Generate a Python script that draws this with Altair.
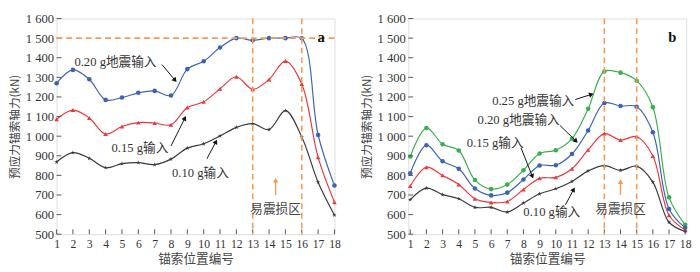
import math
import altair as alt
import pandas as pd

# ---------------- data ----------------
positions = list(range(1, 19))

a_020 = [1270, 1338, 1290, 1185, 1197, 1221, 1231, 1207, 1342, 1382, 1452, 1500, 1489, 1500, 1500, 1499, 1006, 748]
a_015 = [1086, 1133, 1093, 1011, 1049, 1069, 1067, 1058, 1146, 1175, 1242, 1303, 1239, 1289, 1383, 1266, 892, 663]
a_010 = [868, 916, 887, 839, 860, 865, 855, 883, 939, 961, 1001, 1045, 1064, 1034, 1130, 996, 765, 597]

b_025 = [896, 1042, 959, 927, 776, 730, 753, 826, 912, 928, 987, 1140, 1330, 1324, 1283, 1148, 688, 548]
b_020 = [811, 954, 872, 834, 733, 698, 712, 779, 850, 852, 909, 1029, 1169, 1154, 1150, 1020, 629, 533]
b_015 = [746, 842, 800, 754, 681, 662, 667, 728, 785, 790, 834, 930, 1013, 980, 998, 899, 597, 522]
b_010 = [676, 735, 702, 681, 637, 637, 613, 659, 706, 732, 769, 823, 850, 826, 847, 766, 561, 514]

series_names = ["0.25g", "0.20g", "0.15g", "0.10g"]
series_colors = ["#3aae4c", "#3d63b5", "#e8383d", "#3a3a3a"]
star = ("M0,-1L0.2245,-0.309L0.951,-0.309L0.363,0.118L0.588,0.809L0,0.382"
        "L-0.588,0.809L-0.363,0.118L-0.951,-0.309L-0.2245,-0.309Z")
series_shapes = ["circle", "circle", "triangle-up", star]

y_ticks = [500, 600, 700, 800, 900, 1000, 1100, 1200, 1300, 1400, 1500, 1600]

# annotation labels: text, x, y
a_labels = [("0.20 g地震输入", 4.6, 1380), ("0.15 g输入", 6.1, 940), ("0.10 g输入", 9.8, 810)]
a_arrows = [(7.45, 1365, 8.25, 1285), (8.0, 950, 8.85, 1092), (10.2, 885, 10.75, 972)]
a_vlines = [13, 16]
a_hline = [1500]
a_zone = ("易震损区", 14.4, 630)
a_zone_arrow = (14.4, 700, 14.4, 775)

b_labels = [("0.25 g地震输入", 8.6, 1180), ("0.20 g地震输入", 7.7, 1080),
            ("0.15 g输入", 6.25, 966), ("0.10 g输入", 9.75, 613)]
b_arrows = [(11.2, 1187, 12.2, 1213), (10.25, 1055, 11.25, 975),
            (7.85, 940, 8.55, 795), (10.6, 650, 11.1, 728)]
b_vlines = [13, 15]
b_zone = ("易震损区", 14.0, 630)
b_zone_arrow = (14.0, 700, 14.0, 768)

# ---------------- styling ----------------
W, H = 286, 222
SERIF = "Liberation Serif, Noto Sans CJK SC"
CJK = "Noto Sans CJK SC"
ORANGE = "#f59a52"
TXT = "#333333"

XAXIS = alt.Axis(values=positions, title="锚索位置编号", titleFont=CJK, titleFontSize=13,
                 titleFontWeight="normal", titleColor="#444", titlePadding=3,
                 labelFont="Liberation Serif", labelFontSize=12, labelColor=TXT,
                 labelOverlap=False, labelBound=False, labelFlush=False,
                 labelPadding=5, ticks=False, grid=False, domain=False)
YAXIS = alt.Axis(values=y_ticks, title="预应力锚索轴力(kN)", titleFont=CJK, titleFontSize=12,
                 titleFontWeight="normal", titleColor="#444", titlePadding=4,
                 labelFont="Liberation Serif", labelFontSize=13, labelColor=TXT,
                 labelOverlap=False, labelFlush=False,
                 labelExpr="replace(format(datum.value, ','), ',', ' ')",
                 labelPadding=3, ticks=False, grid=False, domain=False)


def make_panel(series, xdom, labels, arrows, vlines, hlines, zone, zone_arrow, letter):
    rows = []
    for name, vals in series:
        for p, v in zip(positions, vals):
            rows.append({"pos": p, "val": v, "series": name})
    df = pd.DataFrame(rows)

    xs = alt.Scale(domain=xdom, nice=False, zero=False)
    ys = alt.Scale(domain=[500, 1600], nice=False, zero=False)
    sx = W / (xdom[1] - xdom[0])
    sy = H / 1100.0

    def X(field):
        return alt.X(field, scale=xs, axis=XAXIS)

    def Y(field):
        return alt.Y(field, scale=ys, axis=YAXIS)

    color = alt.Color("series:N", scale=alt.Scale(domain=series_names, range=series_colors), legend=None)
    shape = alt.Shape("series:N", scale=alt.Scale(domain=series_names, range=series_shapes), legend=None)

    base = alt.Chart(df)
    lines = base.mark_line(interpolate="catmull-rom", strokeWidth=1.2).encode(
        x=X("pos:Q"), y=Y("val:Q"), color=color, detail="series:N")
    pts = base.mark_point(filled=True, size=22, opacity=1).encode(
        x=X("pos:Q"), y=Y("val:Q"), color=color, shape=shape)

    layers = [lines, pts]

    # inward ticks
    xt = pd.DataFrame({"pos": positions})
    layers.append(alt.Chart(xt).mark_rule(color="#555", strokeWidth=1).encode(
        x=X("pos:Q"), y=alt.value(H), y2=alt.value(H - 5)))
    yt = pd.DataFrame({"val": y_ticks})
    layers.append(alt.Chart(yt).mark_rule(color="#555", strokeWidth=1).encode(
        y=Y("val:Q"), x=alt.value(0), x2=alt.value(5)))

    # dashed lines
    vdf = pd.DataFrame({"pos": vlines})
    layers.append(alt.Chart(vdf).mark_rule(color=ORANGE, strokeDash=[6, 4], strokeWidth=1.6).encode(
        x=X("pos:Q")))
    if hlines:
        hdf = pd.DataFrame({"val": hlines})
        layers.append(alt.Chart(hdf).mark_rule(color=ORANGE, strokeDash=[6, 4], strokeWidth=1.6).encode(
            y=Y("val:Q")))

    # labels
    ldf = pd.DataFrame(labels, columns=["text", "pos", "val"])
    layers.append(alt.Chart(ldf).mark_text(font=SERIF, fontSize=13, color=TXT).encode(
        x=X("pos:Q"), y=Y("val:Q"), text="text:N"))

    # arrows
    adf = pd.DataFrame(arrows, columns=["x1", "y1", "x2", "y2"])
    adf["ang"] = [
        math.degrees(math.atan2((r.x2 - r.x1) * sx, (r.y2 - r.y1) * sy)) % 360
        for r in adf.itertuples()
    ]
    layers.append(alt.Chart(adf).mark_rule(color="#111", strokeWidth=1).encode(
        x=X("x1:Q"), y=Y("y1:Q"), x2="x2:Q", y2="y2:Q"))
    layers.append(alt.Chart(adf).mark_point(shape="triangle-up", filled=True, size=30,
                                             color="#111", opacity=1).encode(
        x=X("x2:Q"), y=Y("y2:Q"), angle=alt.Angle("ang:Q", scale=None)))

    # damage zone
    zdf = pd.DataFrame([zone], columns=["text", "pos", "val"])
    layers.append(alt.Chart(zdf).mark_text(font=CJK, fontSize=13, color="#444").encode(
        x=X("pos:Q"), y=Y("val:Q"), text="text:N"))
    zadf = pd.DataFrame([zone_arrow], columns=["x1", "y1", "x2", "y2"])
    layers.append(alt.Chart(zadf).mark_rule(color=ORANGE, strokeWidth=1.4).encode(
        x=X("x1:Q"), y=Y("y1:Q"), x2="x2:Q", y2="y2:Q"))
    layers.append(alt.Chart(zadf).mark_point(shape="triangle-up", filled=True, size=30,
                                              color=ORANGE, opacity=1).encode(
        x=X("x2:Q"), y=Y("y2:Q")))

    # panel letter
    layers.append(alt.Chart(pd.DataFrame({"t": [letter]})).mark_text(
        font="Liberation Serif", fontSize=15, fontWeight="bold", color="#111",
        align="right", baseline="top").encode(
        x=alt.value(W - 10), y=alt.value(12), text="t:N"))

    return alt.layer(*layers).properties(width=W, height=H)


panel_a = make_panel([("0.20g", a_020), ("0.15g", a_015), ("0.10g", a_010)],
                     [1, 18], a_labels, a_arrows, a_vlines, a_hline, a_zone, a_zone_arrow, "a")
panel_b = make_panel([("0.25g", b_025), ("0.20g", b_020), ("0.15g", b_015), ("0.10g", b_010)],
                     [0.88, 18.06], b_labels, b_arrows, b_vlines, [], b_zone, b_zone_arrow, "b")

chart = alt.hconcat(panel_a, panel_b, spacing=19).properties(padding=0).configure_view(
    stroke="#666", strokeWidth=1.2).configure_axis(labelOverlap=False).configure(background="white")

chart.save("out.html", embed_options={"renderer": "svg", "actions": False})
